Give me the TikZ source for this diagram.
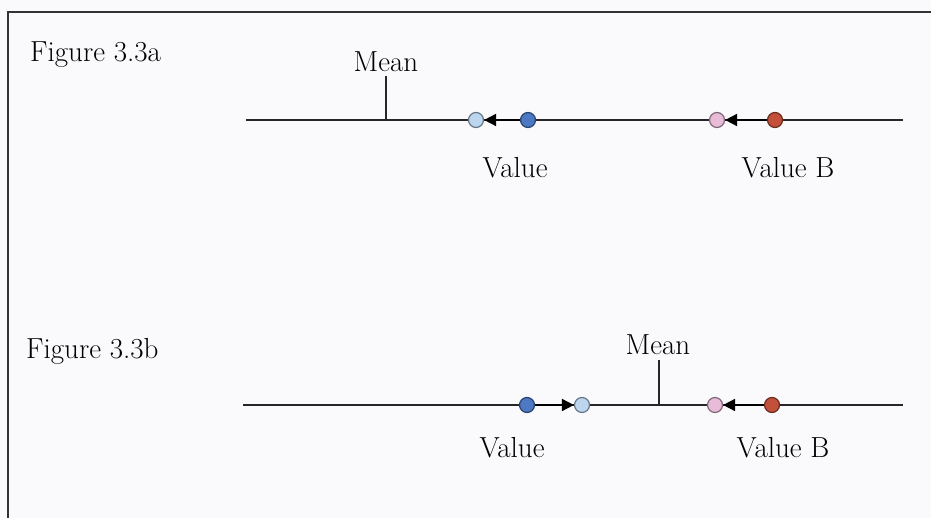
\documentclass[tikz,border=0pt]{standalone}
\usepackage{tikz}
\usetikzlibrary{arrows.meta}

\definecolor{paper}{RGB}{250,250,252}
\definecolor{lightdot}{HTML}{BCD6F0}
\definecolor{darkdot}{HTML}{4C78C4}
\definecolor{pinkdot}{HTML}{E8BCD8}
\definecolor{reddot}{HTML}{C2503A}

\tikzset{
  dot/.style={circle,draw=#1!55!black,fill=#1,line width=1.2pt,inner sep=0pt,minimum size=15pt},
  lbl/.style={font=\fontsize{29}{34}\selectfont,inner sep=0pt,anchor=base},
  axis/.style={line width=1.8pt,black!85},
  pull/.style={-{Triangle[length=12pt,width=12pt]},line width=1.8pt}
}

\begin{document}
\begin{tikzpicture}[x=1pt,y=-1pt]
\fill[paper] (0,0) rectangle (931,518);
\useasboundingbox (0,0) rectangle (931,518);
\draw[line width=2.6pt,black!80] (931,12) -- (8,12) -- (8,518);
\begin{scope}
  \node[lbl,anchor=base west] (figa) at (30,62) {Figure 3.3a};
  \coordinate (la) at (246,120);
  \coordinate (ra) at (903,120);
  \draw[axis] (la) -- (ra);
  \node[lbl] (meana) at (386,72) {Mean};
  \coordinate (tka) at (386,76);
  \draw[axis] (tka) -- (tka |- la);
  \node[dot=lightdot] (newa) at (476,120) {};
  \node[dot=darkdot] (olda) at (528,120) {};
  \node[dot=pinkdot] (newb) at (717,120) {};
  \node[dot=reddot] (oldb) at (775,120) {};
  \draw[pull] (olda) -- (newa);
  \draw[pull] (oldb) -- (newb);
  \node[lbl] (vala) at (515,178) {Value};
  \node[lbl] (valb) at (788,178) {Value B};
\end{scope}
\begin{scope}[shift={(0,285)}]
  \node[lbl,anchor=base west] (figb) at (26,74) {Figure 3.3b};
  \coordinate (lb) at (243,120);
  \coordinate (rb) at (903,120);
  \draw[axis] (lb) -- (rb);
  \node[lbl] (meanb) at (658,70) {Mean};
  \coordinate (tkb) at (659,75);
  \draw[axis] (tkb) -- (tkb |- lb);
  \node[dot=darkdot] (oldc) at (527,120) {};
  \node[dot=lightdot] (newc) at (582,120) {};
  \node[dot=pinkdot] (newd) at (715,120) {};
  \node[dot=reddot] (oldd) at (772,120) {};
  \draw[pull] (oldc) -- (newc);
  \draw[pull] (oldd) -- (newd);
  \node[lbl] (valc) at (512,172) {Value};
  \node[lbl] (vald) at (783,172) {Value B};
\end{scope}
\end{tikzpicture}
\end{document}
